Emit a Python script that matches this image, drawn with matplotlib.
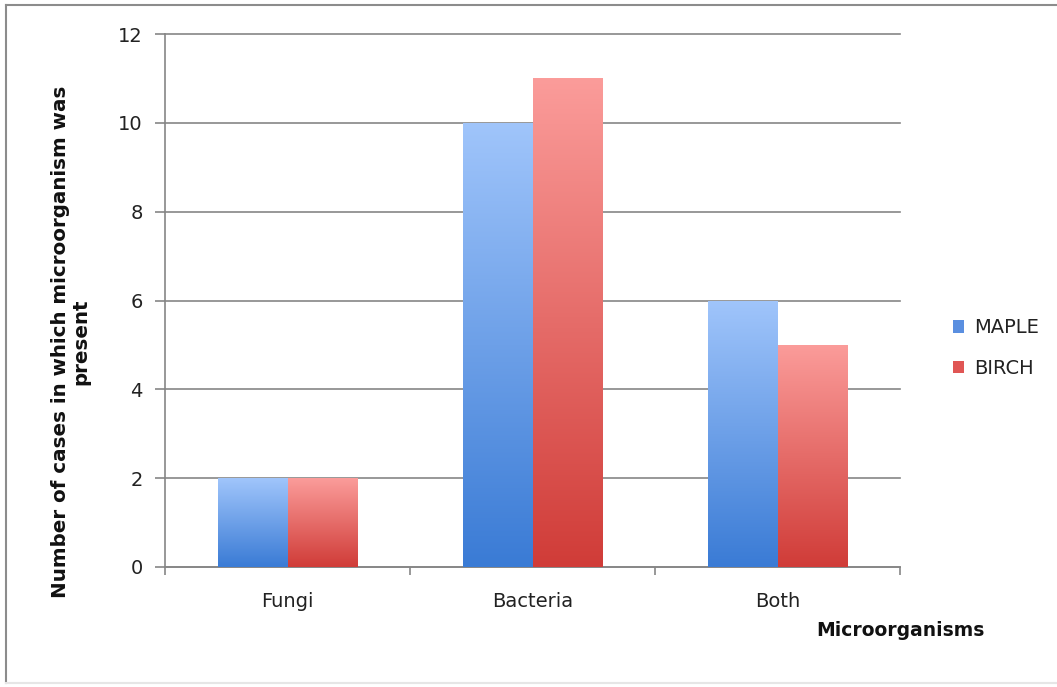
import numpy as np
import matplotlib.pyplot as plt
from matplotlib.colors import LinearSegmentedColormap
from matplotlib.patches import Patch, Rectangle
from matplotlib.lines import Line2D

plt.rcParams['font.family'] = ['DejaVu Sans']

categories = ['Fungi', 'Bacteria', 'Both']
series_names = ['MAPLE', 'BIRCH']
maple = [2, 10, 6]
birch = [2, 11, 5]
yticks = [0, 2, 4, 6, 8, 10, 12]

# light top -> dark bottom, Excel-style
BLUE_TOP, BLUE_BOT = '#a0c5fb', '#3a7bd5'
RED_TOP, RED_BOT = '#fb9c9a', '#d03c38'
GRID = '#868686'

fig = plt.figure(figsize=(10.57, 6.87), dpi=100)
ax = fig.add_axes([165 / 1057, 1 - 567 / 687, 735 / 1057, 533 / 687])

bar_w = 0.2857
x = np.arange(len(categories))


def gradient_bar(ax, xc, h, top, bot):
    cmap = LinearSegmentedColormap.from_list('g', [bot, top])
    rect = Rectangle((xc - bar_w / 2, 0), bar_w, h, facecolor='none',
                     edgecolor='none', zorder=3)
    ax.add_patch(rect)
    grad = np.linspace(0, 1, 256).reshape(-1, 1)
    im = ax.imshow(grad, cmap=cmap, origin='lower', aspect='auto',
                   extent=(xc - bar_w / 2, xc + bar_w / 2, 0, h), zorder=3)
    im.set_clip_path(rect)


for i in range(len(categories)):
    gradient_bar(ax, x[i] - bar_w / 2, maple[i], BLUE_TOP, BLUE_BOT)
    gradient_bar(ax, x[i] + bar_w / 2, birch[i], RED_TOP, RED_BOT)

ax.set_xlim(-0.5, 2.5)
ax.set_ylim(0, 12)
ax.set_yticks(yticks)
ax.set_yticklabels([str(v) for v in yticks], fontsize=14, color='#222222')
ax.grid(axis='y', color=GRID, linewidth=1.2, zorder=0)
ax.set_axisbelow(True)
for gl in ax.yaxis.get_gridlines():
    gl.set_clip_on(False)

ax.set_xticks(x)
ax.set_xticklabels(categories, fontsize=14, color='#222222')
ax.tick_params(axis='x', length=0, pad=18)
ax.set_xticks([-0.5, 0.5, 1.5, 2.5], minor=True)
ax.tick_params(axis='x', which='minor', length=6, width=1.2, color=GRID)
ax.tick_params(axis='y', length=7, width=1.2, color=GRID, pad=9)

for side in ['top', 'right']:
    ax.spines[side].set_visible(False)
for side in ['left', 'bottom']:
    ax.spines[side].set_color(GRID)
    ax.spines[side].set_linewidth(1.2)

fig.text(71 / 1057, 1 - 342 / 687,
         'Number of cases in which microorganism was\npresent',
         rotation=90, ha='center', va='center', multialignment='center',
         fontsize=14.3, fontweight='bold', color='#111111', linespacing=1.1)
fig.text(985 / 1057, 1 - 630 / 687, 'Microorganisms', ha='right', va='center',
         fontsize=13.5, fontweight='bold', color='#111111')

handles = [Patch(facecolor='#5a8fe0', edgecolor='none'),
           Patch(facecolor='#e05654', edgecolor='none')]
fig.legend(handles, series_names, loc='center left',
           bbox_to_anchor=(935 / 1057, 1 - 348 / 687), frameon=False,
           fontsize=14, handlelength=0.6, handleheight=0.6,
           handletextpad=0.5, labelspacing=1.1, labelcolor='#222222')

# outer chart border
fig.add_artist(Line2D([6 / 1057, 1.0], [1 - 5 / 687, 1 - 5 / 687],
                      transform=fig.transFigure, color='#8c8c8c', lw=1.5))
fig.add_artist(Line2D([6 / 1057, 6 / 1057], [1 - 5 / 687, 1 - 683 / 687],
                      transform=fig.transFigure, color='#8c8c8c', lw=1.5))
fig.add_artist(Line2D([6 / 1057, 1.0], [1 - 683 / 687, 1 - 683 / 687],
                      transform=fig.transFigure, color='#e6e6e6', lw=1.5))

fig.savefig('out.png', dpi=100)
